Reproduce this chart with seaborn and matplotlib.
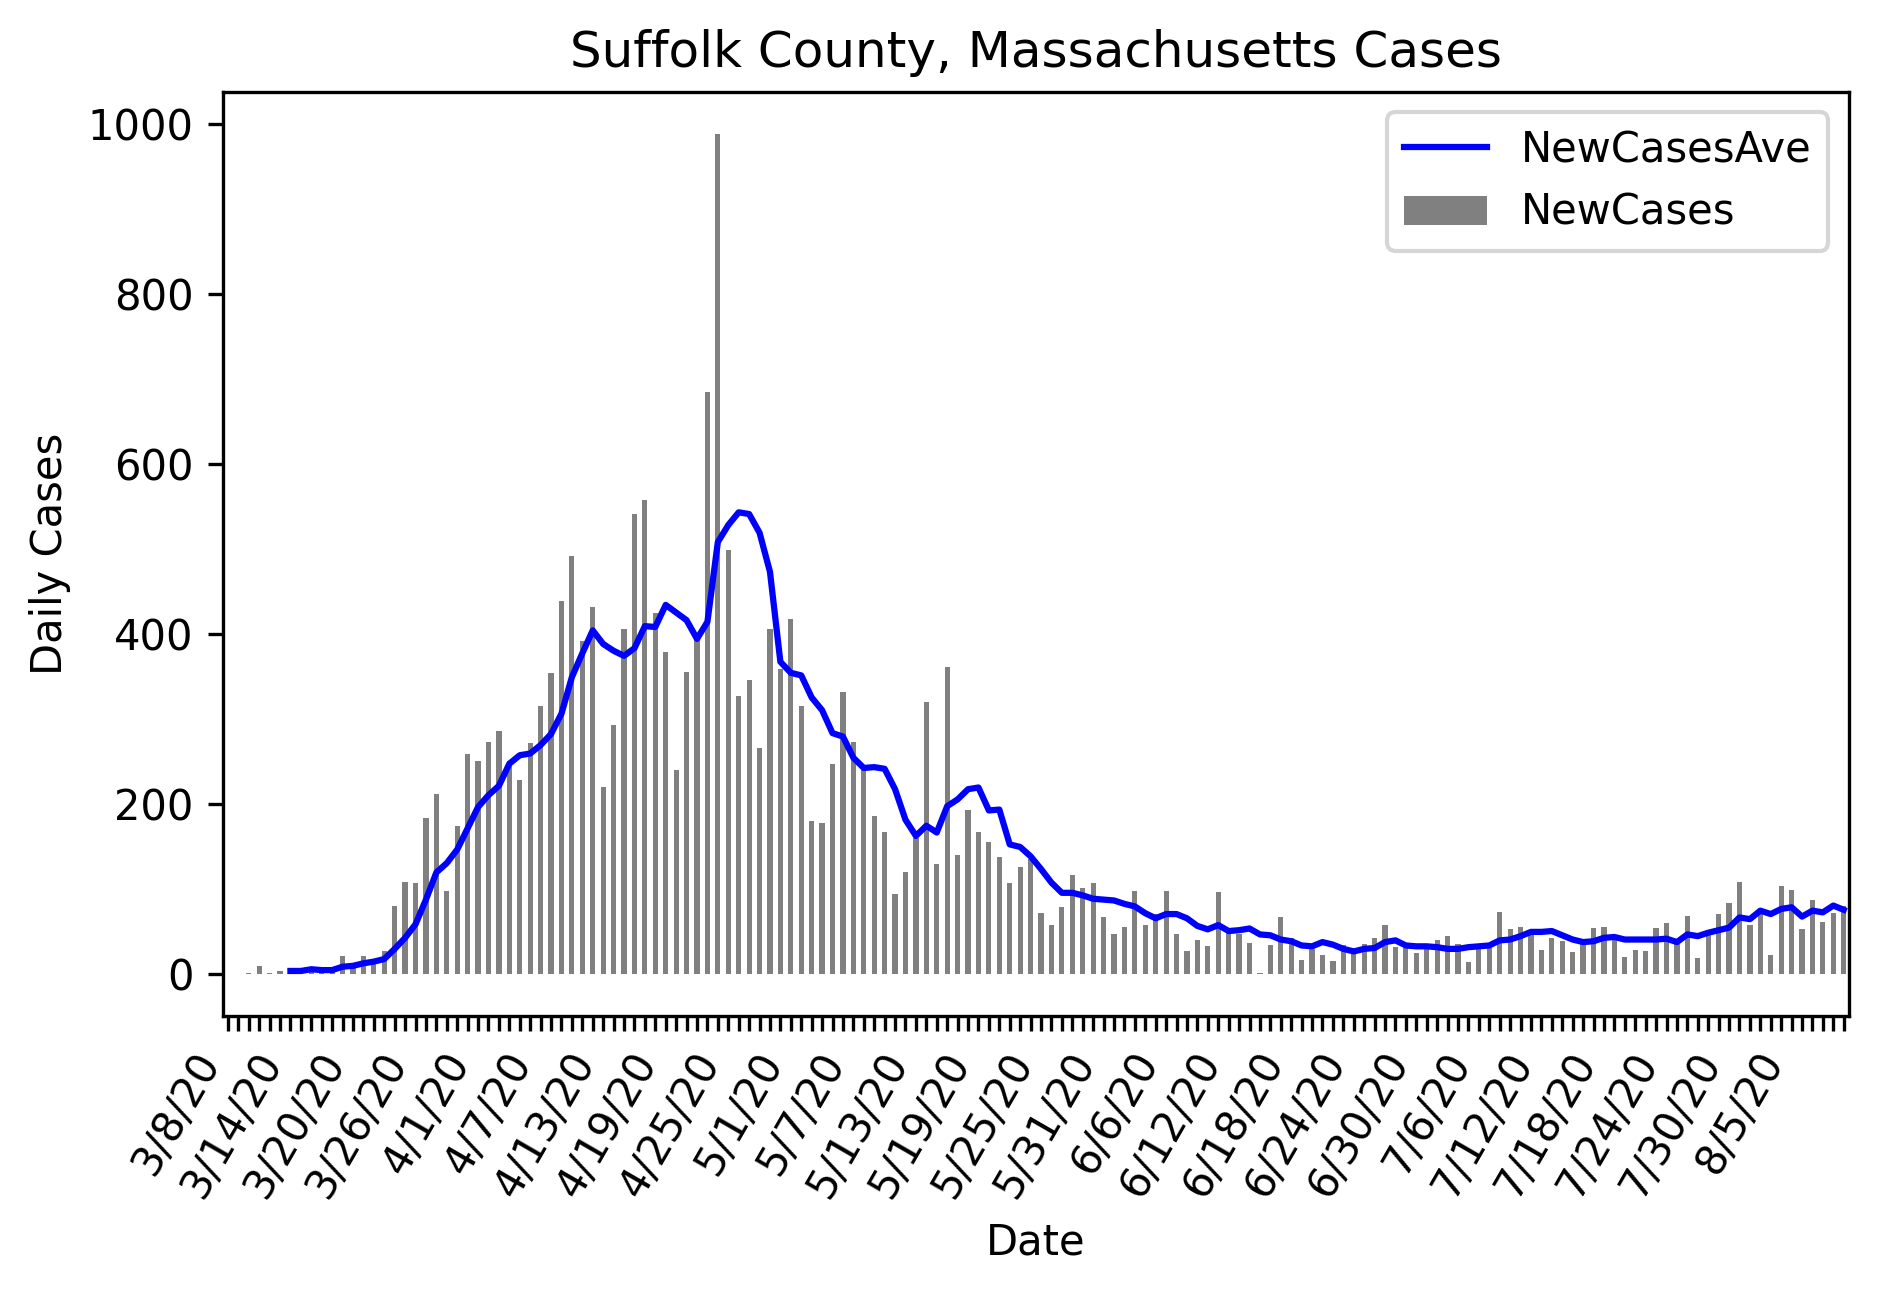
import matplotlib
matplotlib.use("Agg")
import matplotlib.pyplot as plt
import seaborn as sns
import numpy as np
import pandas as pd

start_date = "2020-03-08"
n_days = 156

new_cases = [
    0, 0, 1, 9, 1, 3, 5, 3, 8, 4,
    8, 21, 9, 21, 17, 27, 80, 108, 106, 183,
    211, 97, 174, 258, 250, 272, 285, 250, 228, 271,
    315, 354, 439, 491, 391, 431, 220, 293, 406, 541,
    558, 425, 378, 240, 355, 400, 685, 989, 499, 327,
    345, 266, 406, 358, 417, 315, 179, 177, 247, 332,
    273, 240, 186, 167, 94, 120, 160, 320, 129, 361,
    140, 193, 167, 155, 137, 107, 125, 135, 71, 57,
    78, 116, 101, 106, 66, 47, 55, 97, 57, 70,
    97, 46, 27, 39, 32, 96, 54, 47, 36, 1,
    33, 67, 42, 16, 29, 22, 15, 34, 30, 35,
    42, 57, 31, 30, 24, 30, 39, 44, 35, 13,
    29, 30, 72, 52, 55, 45, 28, 42, 38, 25,
    35, 54, 55, 40, 20, 28, 27, 54, 60, 35,
    68, 18, 45, 70, 83, 108, 57, 70, 22, 103,
    98, 52, 86, 61, 71, 80,
]

# 7-day average (starts on the 7th day)
new_cases_ave = [np.nan] * 6 + [
    3, 3, 5, 4,
    4, 8, 9, 12, 14, 17, 29, 42, 58, 87,
    119, 130, 146, 171, 196, 210, 221, 247, 257, 259,
    269, 282, 306, 349, 377, 404, 388, 380, 374, 383,
    409, 408, 434, 425, 416, 394, 414, 508, 528, 543,
    541, 519, 473, 367, 354, 351, 325, 310, 283, 279,
    254, 242, 243, 241, 217, 181, 162, 174, 166, 197,
    205, 217, 219, 192, 193, 152, 149, 138, 123, 107,
    95, 95, 92, 88, 87, 86, 82, 79, 71, 65,
    70, 70, 65, 56, 52, 57, 50, 51, 53, 46,
    45, 40, 38, 33, 32, 37, 34, 29, 26, 29,
    30, 37, 39, 33, 32, 32, 31, 29, 29, 31,
    32, 33, 39, 40, 44, 49, 49, 50, 45, 40,
    37, 38, 42, 43, 40, 40, 40, 40, 41, 37,
    46, 44, 48, 51, 54, 66, 64, 74, 70, 76,
    78, 67, 74, 72, 80, 75,
]

dates = pd.date_range(start_date, periods=n_days)
date_labels = [f"{d.month}/{d.day}/20" for d in dates]
label_step = 6
last_labeled = 150

df = pd.DataFrame({
    "pos": np.arange(n_days),
    "Date": date_labels,
    "NewCases": new_cases,
    "NewCasesAve": new_cases_ave,
})

DPI = 300
fig = plt.figure(figsize=(1879 / DPI, 1291 / DPI), dpi=DPI)
left, right, bottom, top = 0.1185, 0.9840, 0.2134, 0.9291
ax = fig.add_axes([left, bottom, right - left, top - bottom])

sns.barplot(data=df, x="pos", y="NewCases", color="#808080", saturation=1,
            width=0.5, errorbar=None, linewidth=0, label="NewCases", ax=ax)
sns.lineplot(data=df, x="pos", y="NewCasesAve", color="blue", linewidth=1.5,
             label="NewCasesAve", ax=ax)

ax.set_xlim(-0.5, n_days - 0.5)
# standard 5% autoscale margin on both sides (as matplotlib/pandas would do)
ymin, ymax = min(0, min(new_cases)), max(new_cases)
pad = 0.05 * (ymax - ymin)
ax.set_ylim(ymin - pad, ymax + pad)

ax.set_xticks(np.arange(n_days))
ax.set_xticklabels([lab if (i % label_step == 0 and i <= last_labeled) else ""
                    for i, lab in enumerate(date_labels)],
                   rotation=60, ha="right", fontsize=10)
ax.tick_params(axis="y", labelsize=10)
ax.set_xlabel("Date", fontsize=10)
ax.set_ylabel("Daily Cases", fontsize=10)
ax.set_title("Suffolk County, Massachusetts Cases", fontsize=12)

handles, labels = ax.get_legend_handles_labels()
order = ["NewCasesAve", "NewCases"]
hmap = dict(zip(labels, handles))
ax.legend([hmap[k] for k in order], order, loc="upper right", fontsize=10)

fig.savefig("out.png", dpi=DPI)
